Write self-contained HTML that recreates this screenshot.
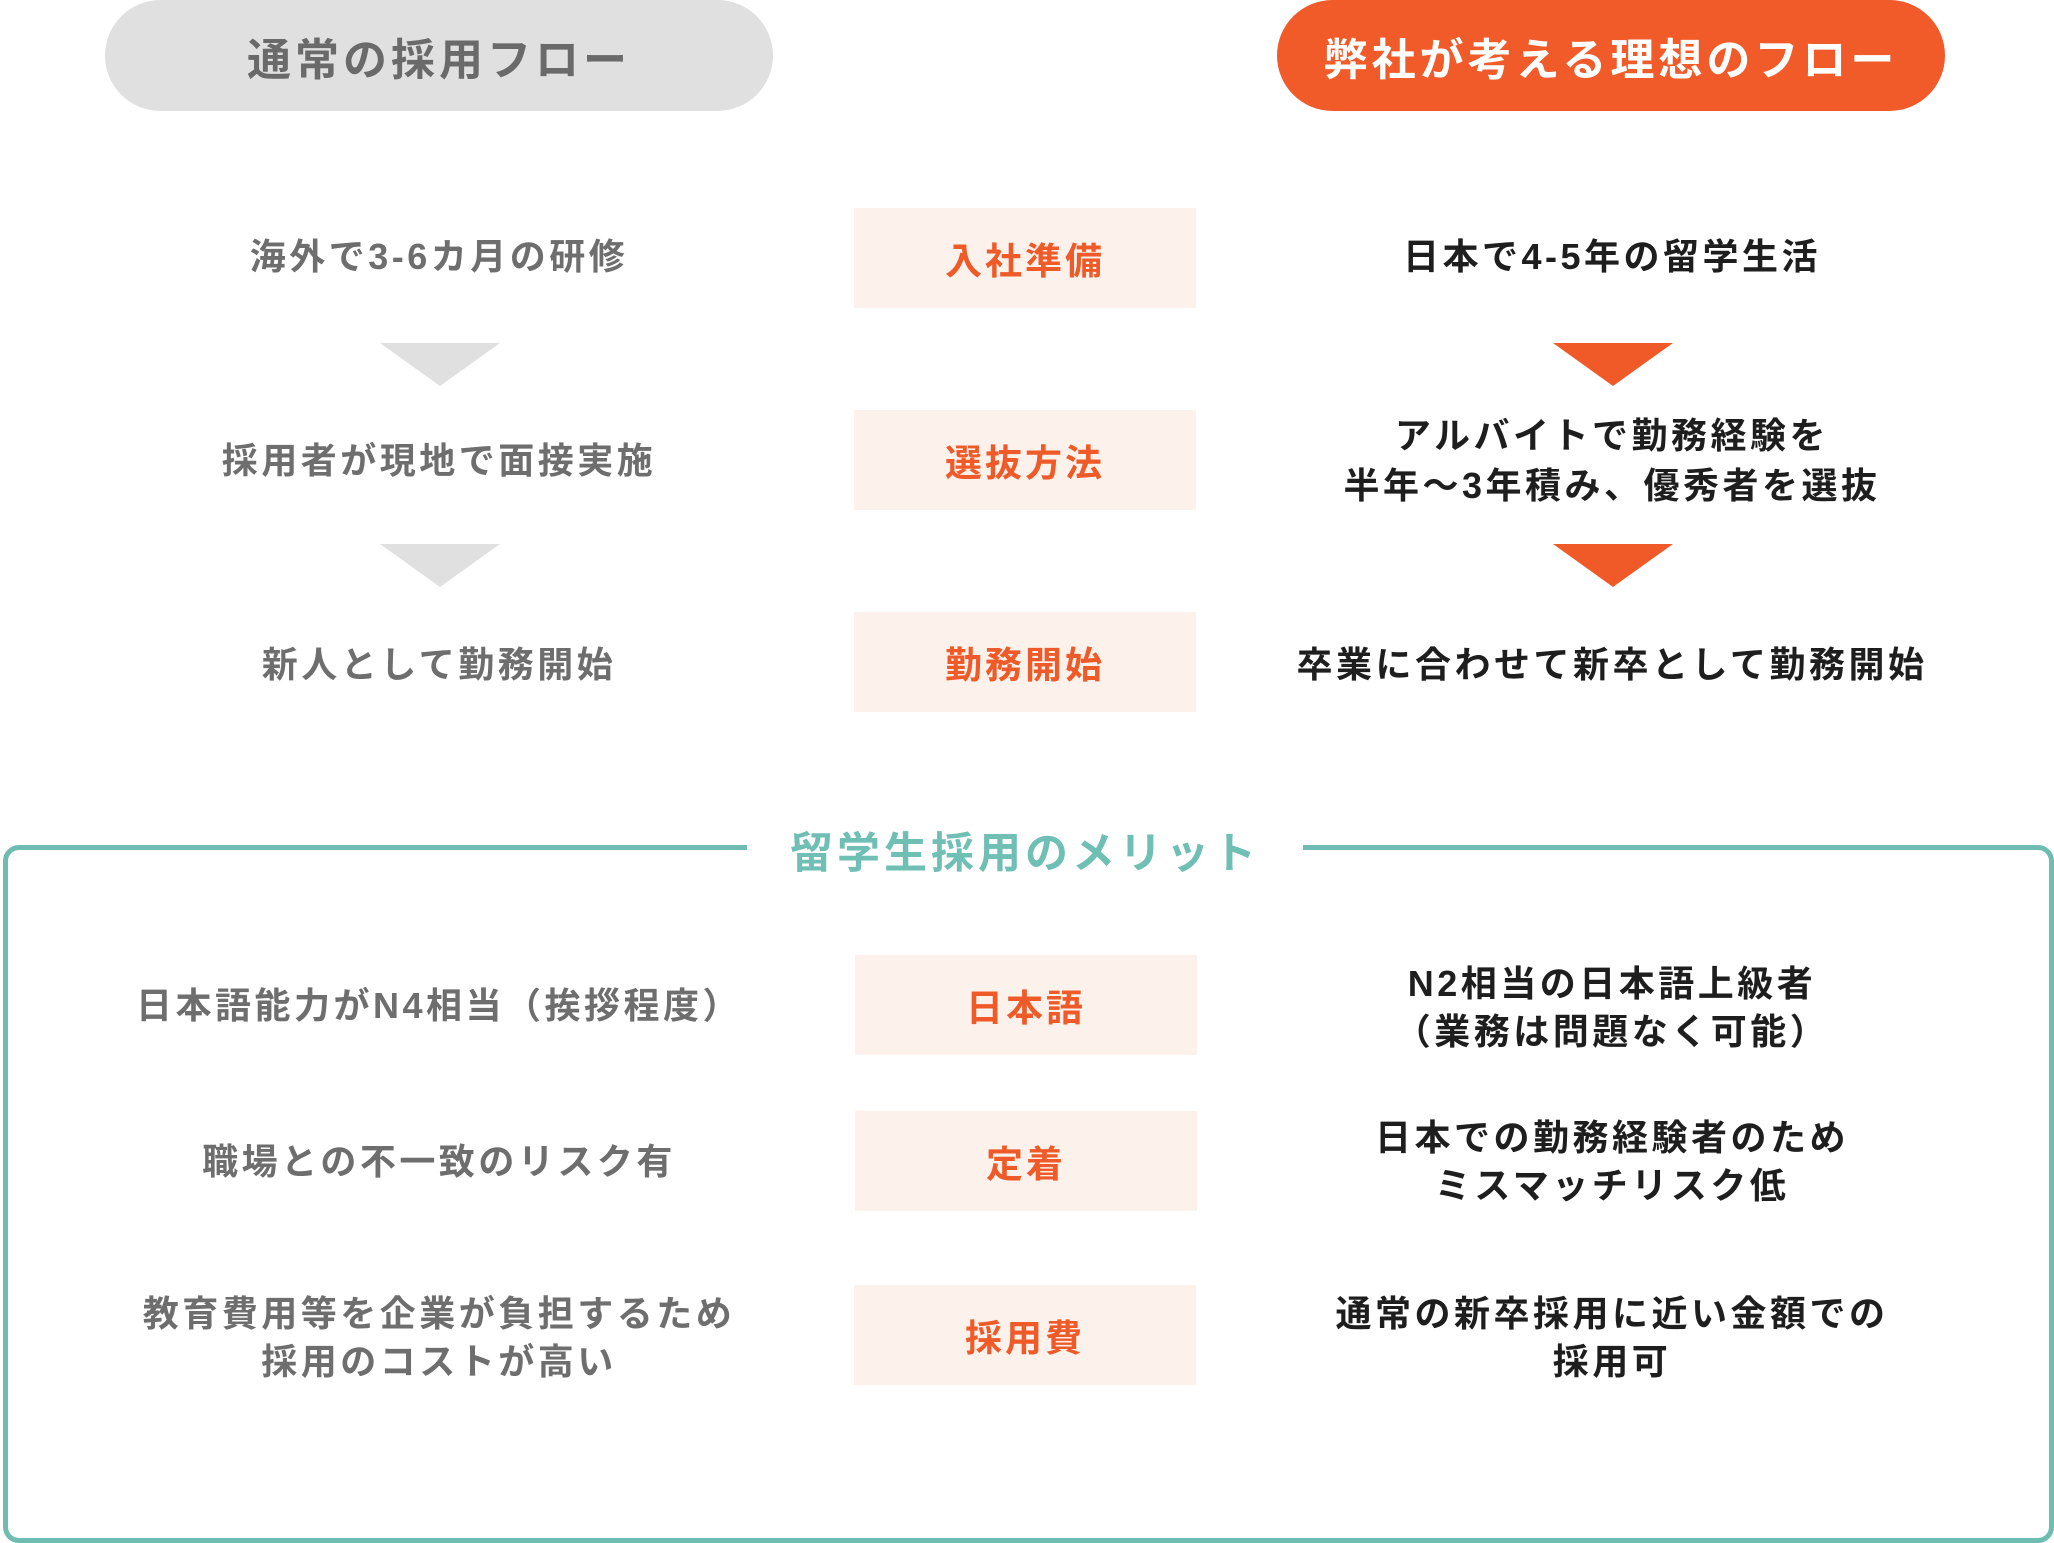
<!DOCTYPE html>
<html><head><meta charset="utf-8"><style>
html,body{margin:0;padding:0;background:#fff;}
body{width:2054px;height:1540px;position:relative;overflow:hidden;font-family:"Liberation Sans","Noto Sans CJK JP",sans-serif;font-weight:bold;}
.a{position:absolute;}
.pill{position:absolute;top:0;height:111px;width:668px;border-radius:56px;display:flex;align-items:center;justify-content:center;font-size:44px;letter-spacing:4px;}
.t{position:absolute;transform:translate(-50%,-50%);text-align:center;white-space:nowrap;font-size:36px;letter-spacing:3.5px;line-height:48px;}
.l{color:#6e6e6e;left:439px;}
.r{color:#1e1e1e;left:1612px;}
.box{position:absolute;background:#fdf1ec;color:#ee5a28;display:flex;align-items:center;justify-content:center;font-size:37px;letter-spacing:3px;}
.tri{position:absolute;width:0;height:0;border-left:60px solid transparent;border-right:60px solid transparent;border-top:43px solid #e0e0e0;}
.tri.o{border-top-color:#f05a28;}
</style></head><body>
<div class="pill" style="left:105px;background:#e0e0e0;color:#6a6a6a;">通常の採用フロー</div>
<div class="pill" style="left:1277px;background:#f15a29;color:#fff;">弊社が考える理想のフロー</div>

<div class="box" style="left:854px;top:208px;width:342px;height:100px;">入社準備</div>
<div class="box" style="left:854px;top:410px;width:342px;height:100px;">選抜方法</div>
<div class="box" style="left:854px;top:612px;width:342px;height:100px;">勤務開始</div>

<div class="t l" style="top:257px;">海外で3-6カ月の研修</div>
<div class="t l" style="top:461px;">採用者が現地で面接実施</div>
<div class="t l" style="top:665px;">新人として勤務開始</div>
<div class="t r" style="top:257px;">日本で4-5年の留学生活</div>
<div class="t r" style="top:461px;line-height:50px;">アルバイトで勤務経験を<br>半年～3年積み、優秀者を選抜</div>
<div class="t r" style="top:665px;">卒業に合わせて新卒として勤務開始</div>

<div class="tri" style="left:380px;top:343px;"></div>
<div class="tri" style="left:380px;top:544px;"></div>
<div class="tri o" style="left:1553px;top:343px;"></div>
<div class="tri o" style="left:1553px;top:544px;"></div>

<div class="a" style="left:3px;top:845px;width:2041px;height:688px;border:5px solid #6fbcb3;border-radius:16px;"></div>
<div class="a" style="left:747px;top:835px;width:556px;height:30px;background:#fff;"></div>
<div class="t" style="left:1025px;top:854px;color:#6fbfb5;font-size:43px;letter-spacing:4px;">留学生採用のメリット</div>

<div class="box" style="left:855px;top:955px;width:342px;height:100px;">日本語</div>
<div class="box" style="left:855px;top:1111px;width:342px;height:100px;">定着</div>
<div class="box" style="left:854px;top:1285px;width:342px;height:100px;">採用費</div>

<div class="t l" style="top:1006px;">日本語能力がN4相当（挨拶程度）</div>
<div class="t l" style="top:1162px;">職場との不一致のリスク有</div>
<div class="t l" style="top:1338px;">教育費用等を企業が負担するため<br>採用のコストが高い</div>
<div class="t r" style="top:1008px;">N2相当の日本語上級者<br>（業務は問題なく可能）</div>
<div class="t r" style="top:1162px;">日本での勤務経験者のため<br>ミスマッチリスク低</div>
<div class="t r" style="top:1338px;">通常の新卒採用に近い金額での<br>採用可</div>
</body></html>
